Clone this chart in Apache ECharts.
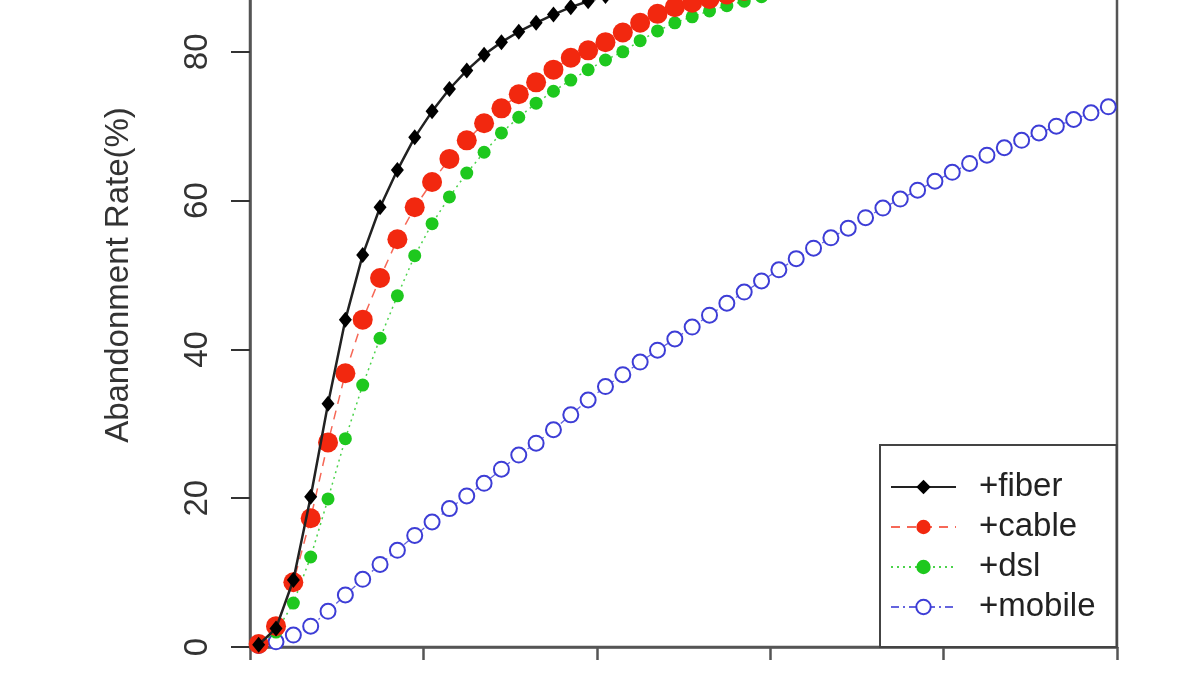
<!DOCTYPE html>
<html>
<head>
<meta charset="utf-8">
<script src="https://cdn.jsdelivr.net/npm/echarts@6/dist/echarts.min.js"></script>
<style>html,body{margin:0;padding:0;background:#fff;}#c{width:1200px;height:675px;}</style>
</head>
<body>
<div id="c"></div>
<script>
var xs = [0.5,1.5,2.5,3.5,4.5,5.5,6.5,7.5,8.5,9.5,10.5,11.5,12.5,13.5,14.5,15.5,16.5,17.5,18.5,19.5,20.5,21.5,22.5,23.5,24.5,25.5,26.5,27.5,28.5,29.5,30.5,31.5,32.5,33.5,34.5,35.5,36.5,37.5,38.5,39.5,40.5,41.5,42.5,43.5,44.5,45.5,46.5,47.5,48.5,49.5];
var fiber = [0.3,2.5,9.0,20.2,32.7,44.0,52.7,59.1,64.1,68.5,72.0,75.0,77.5,79.6,81.3,82.7,83.9,85.0,86.0,86.8,87.5,88.2,88.8,89.4,89.9,90.4,90.9,91.3,91.7,92.1,92.5,92.8,93.1,93.4,93.7,94.0,94.2,94.5,94.7,94.9,95.1,95.3,95.5,95.7,95.9,96.0,96.2,96.3,96.5,96.6];
var cable = [0.4,2.8,8.7,17.3,27.5,36.8,44.0,49.6,54.8,59.1,62.5,65.6,68.1,70.4,72.4,74.3,75.9,77.6,79.2,80.2,81.3,82.6,83.9,85.1,86.0,86.6,87.1,87.7,88.2,88.7,89.2,89.6,90.0,90.4,90.8,91.1,91.4,91.7,92.0,92.3,92.6,92.8,93.0,93.2,93.4,93.6,93.8,94.0,94.1,94.3];
var dsl = [0.3,2.0,5.9,12.1,19.9,28.0,35.2,41.5,47.2,52.6,56.9,60.5,63.7,66.5,69.1,71.2,73.1,74.7,76.2,77.6,78.9,80.0,81.5,82.8,83.9,84.7,85.5,86.2,86.8,87.4,87.9,88.4,88.9,89.3,89.7,90.1,90.5,90.8,91.1,91.4,91.7,92.0,92.2,92.4,92.6,92.8,93.0,93.2,93.4,93.5];
var mobile = [0.2,0.7,1.6,2.8,4.8,7.0,9.1,11.1,13.0,15.0,16.8,18.6,20.3,22.0,23.9,25.8,27.4,29.2,31.2,33.2,35.0,36.6,38.3,39.9,41.4,43.0,44.6,46.2,47.7,49.2,50.7,52.2,53.6,55.0,56.3,57.7,59.0,60.2,61.4,62.6,63.8,65.0,66.1,67.1,68.1,69.1,70.0,70.9,71.8,72.6];
var seriesNames = ['+fiber','+cable','+dsl','+mobile'];
var yTicks = [0,20,40,60,80,100];
var yTitle = 'Abandonment Rate(%)';

function pairs(arr){ return xs.map(function(x,i){ return [x, arr[i]]; }); }

var FONT = 'Liberation Sans, Arial, Helvetica, sans-serif';
var chart = echarts.init(document.getElementById('c'), null, {renderer:'canvas'});
chart.setOption({
  animation: false,
  backgroundColor: '#fff',
  grid: {left: 250, right: 83, top: -97, bottom: 28, outerBoundsMode: 'none', containLabel: false,
         show: true, borderColor: '#555', borderWidth: 2.5, backgroundColor: 'transparent'},
  xAxis: {
    type: 'value', min: 0, max: 50, interval: 10,
    axisLine: {show: true, lineStyle: {color: '#555', width: 2.5}},
    axisTick: {show: true, length: 13, lineStyle: {color: '#555', width: 2.5}},
    axisLabel: {show: false},
    splitLine: {show: false}
  },
  yAxis: {
    type: 'value', min: yTicks[0], max: yTicks[yTicks.length-1], interval: 20,
    name: yTitle, nameLocation: 'middle', nameGap: 115,
    nameTextStyle: {fontFamily: FONT, fontSize: 33, color: '#333'},
    axisLine: {show: true, lineStyle: {color: '#555', width: 2.5}},
    axisTick: {show: true, length: 19, lineStyle: {color: '#333', width: 2}},
    axisLabel: {rotate: 90, margin: 36, fontFamily: FONT, fontSize: 33, color: '#333'},
    splitLine: {show: false}
  },
  legend: {
    orient: 'vertical', left: 880, top: 445,
    data: seriesNames,
    backgroundColor: '#fff', borderColor: '#444', borderWidth: 2,
    padding: [22, 21, 20, 10], itemGap: 0,
    itemWidth: 65, itemHeight: 18,
    textStyle: {fontFamily: FONT, fontSize: 33, color: '#222', lineHeight: 40, padding: [0,0,0,18]},
    selectedMode: false
  },
  series: [
    {name: seriesNames[0], type: 'line', data: pairs(fiber), symbol: 'diamond', symbolSize: [13,16],
     itemStyle: {color: '#000'}, lineStyle: {color: '#222', width: 2.5, type: 'solid'}, z: 5},
    {name: seriesNames[1], type: 'line', data: pairs(cable), symbol: 'circle', symbolSize: 20,
     itemStyle: {color: '#f2280f'}, lineStyle: {color: '#f2280f', width: 1.5, type: [9,7], opacity: 0.7}, z: 4},
    {name: seriesNames[2], type: 'line', data: pairs(dsl), symbol: 'circle', symbolSize: 13,
     itemStyle: {color: '#1ec81e'}, lineStyle: {color: '#1ec81e', width: 1.5, type: [2,4], opacity: 0.8}, z: 3},
    {name: seriesNames[3], type: 'line', data: pairs(mobile), symbol: 'emptyCircle', symbolSize: 15,
     itemStyle: {color: '#3d3dd6', borderWidth: 1.6, borderColor: '#3d3dd6'}, lineStyle: {color: '#3d3dd6', width: 1.3, type: [8,4,2,4], opacity: 0.8}, z: 2}
  ]
});
</script>
</body>
</html>
